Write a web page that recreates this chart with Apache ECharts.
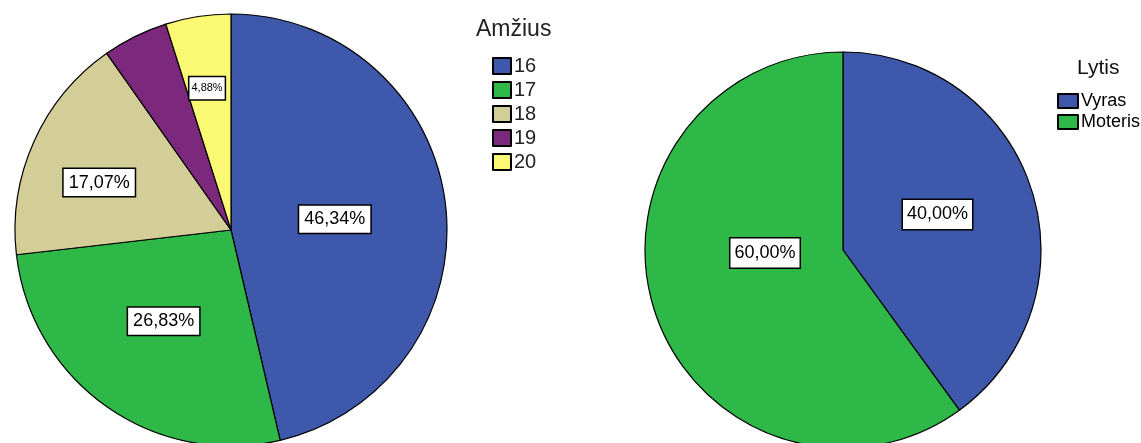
<!DOCTYPE html>
<html><head><meta charset="utf-8">
<script src="https://cdn.jsdelivr.net/npm/echarts@6/dist/echarts.min.js"></script>
<style>html,body{margin:0;padding:0;background:#fff}#c{width:1141px;height:443px}</style>
</head><body><div id="c"></div>
<script>
const ageCategories = ['16', '17', '18', '19', '20'];
const ageCounts = [19, 11, 7, 2, 2];
const agePercentLabels = ['46,34%', '26,83%', '17,07%', '', '4,88%'];
const sexCategories = ['Vyras', 'Moteris'];
const sexCounts = [40, 60];
const sexPercentLabels = ['40,00%', '60,00%'];
const ageColors = ['#3E58AC', '#2EB848', '#D3CE97', '#7C287D', '#FBF873'];
const sexColors = ['#3E58AC', '#2EB848'];
const ageLabelOffsets = [[-6.5, 2], [-3.5, 0.5], [-30.5, -2], [0, 0], [-7, -32]];
const sexLabelOffsets = [[-2.5, -4], [19, -28.5]];

const font = '"Liberation Sans", Arial, sans-serif';
const baseLabel = {
  show: true, position: 'inner', color: '#000', fontFamily: font, fontSize: 18,
  backgroundColor: '#fff', borderColor: '#000', borderWidth: 1.5,
  padding: [5, 5, 4, 5]
};

const chart = echarts.init(document.getElementById('c'), null, {renderer: 'canvas'});
chart.setOption({
  animation: false,
  title: [
    {text: 'Amžius', left: 471, top: 13, textStyle: {fontFamily: font, fontWeight: 'normal', fontSize: 23, color: '#222'}},
    {text: 'Lytis', left: 1072, top: 53, textStyle: {fontFamily: font, fontWeight: 'normal', fontSize: 21, color: '#111'}}
  ],
  legend: [
    {data: ageCategories, orient: 'vertical', left: 487, top: 51, icon: 'rect', itemWidth: 18, itemHeight: 16, itemGap: 4,
      textStyle: {fontFamily: font, fontSize: 20, lineHeight: 20, color: '#222', padding: [0, 0, 0, -2]}, selectedMode: false},
    {data: sexCategories, orient: 'vertical', left: 1052, top: 87, icon: 'rect', itemWidth: 20, itemHeight: 14, itemGap: 3,
      textStyle: {fontFamily: font, fontSize: 18, lineHeight: 18, color: '#000', padding: [0, 0, 0, -2]}, selectedMode: false}
  ],
  series: [
    {
      type: 'pie', center: [231, 230], radius: 216, startAngle: 90, clockwise: true,
      itemStyle: {borderColor: '#000', borderWidth: 1.2},
      label: baseLabel, labelLine: {show: false},
      emphasis: {disabled: true},
      data: ageCategories.map((n, i) => ({
        name: n, value: ageCounts[i], itemStyle: {color: ageColors[i]},
        label: Object.assign({}, baseLabel, {
          show: agePercentLabels[i] !== '',
          formatter: agePercentLabels[i],
          offset: ageLabelOffsets[i],
          fontSize: i === 4 ? 11 : 18,
          padding: i === 4 ? [6, 2, 5, 2] : [5, 5, 4, 5]
        })
      }))
    },
    {
      type: 'pie', center: [843, 250], radius: 198, startAngle: 90, clockwise: true,
      itemStyle: {borderColor: '#000', borderWidth: 1.2},
      label: baseLabel, labelLine: {show: false},
      emphasis: {disabled: true},
      data: sexCategories.map((n, i) => ({
        name: n, value: sexCounts[i], itemStyle: {color: sexColors[i]},
        label: Object.assign({}, baseLabel, {formatter: sexPercentLabels[i], offset: sexLabelOffsets[i], padding: [6, 4, 5, 4]})
      }))
    }
  ]
});
</script></body></html>
